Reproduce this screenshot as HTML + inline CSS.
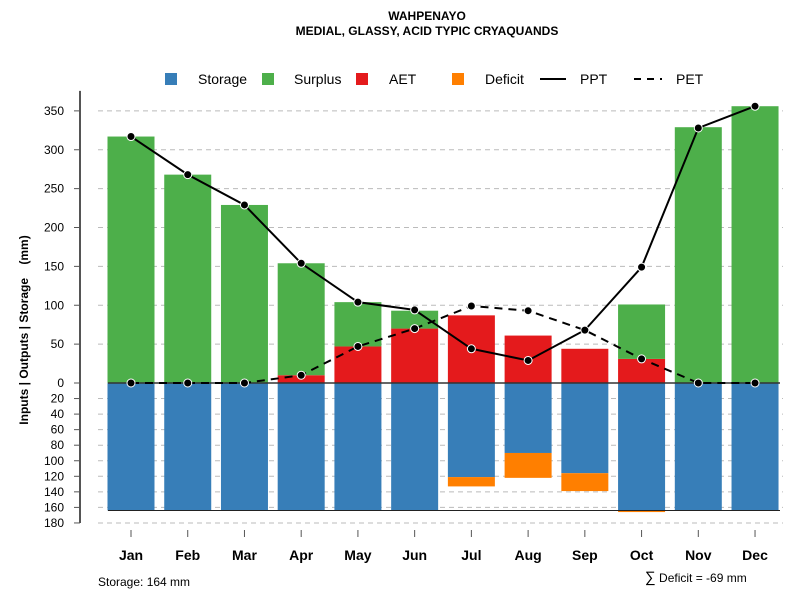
<!DOCTYPE html>
<html><head><meta charset="utf-8"><style>
body{margin:0;background:#fff;font-family:"Liberation Sans",sans-serif}
svg text{font-family:"Liberation Sans",sans-serif}
</style></head><body>
<svg id="c" width="800" height="600">
<text x="427" y="20" text-anchor="middle" font-size="12" font-weight="bold">WAHPENAYO</text>
<text x="427" y="35" text-anchor="middle" font-size="12" font-weight="bold">MEDIAL, GLASSY, ACID TYPIC CRYAQUANDS</text>
<g id="legend">
<rect x="165" y="73" width="12" height="12" fill="#377eb8"/>
<text x="198" y="84" font-size="14">Storage</text>
<rect x="262" y="73" width="12" height="12" fill="#4daf4a"/>
<text x="294" y="84" font-size="14">Surplus</text>
<rect x="356" y="73" width="12" height="12" fill="#e41a1c"/>
<text x="389" y="84" font-size="14">AET</text>
<rect x="452" y="73" width="12" height="12" fill="#ff7f00"/>
<text x="485" y="84" font-size="14">Deficit</text>
<line x1="540" y1="79" x2="566" y2="79" stroke="#000" stroke-width="2"/>
<text x="580" y="84" font-size="14">PPT</text>
<line x1="634" y1="79" x2="662" y2="79" stroke="#000" stroke-width="2" stroke-dasharray="7,6"/>
<text x="676" y="84" font-size="14">PET</text>
</g>
<text transform="translate(28,330) rotate(-90)" text-anchor="middle" font-size="12" font-weight="bold">Inputs | Outputs | Storage&#160;&#160;&#160;&#160;(mm)</text>
<text x="98" y="586" font-size="12">Storage: 164 mm</text>
<text x="645" y="582" font-size="12"><tspan font-size="15">∑</tspan> Deficit = -69 mm</text>
</svg>
<script>
const months=["Jan","Feb","Mar","Apr","May","Jun","Jul","Aug","Sep","Oct","Nov","Dec"];
const aet=[0,0,0,10,47,70,87,61,44,31,0,0];
const surplus=[317,268,229,144,57,23,0,0,0,70,329,356];
const storage=[164,164,164,164,164,164,121,90,116,164,164,164];
const deficit=[0,0,0,0,0,0,12,32,23,2,0,0];
const ppt=[317,268,229,154,104,94,44,29,68,149,328,356];
const pet=[0,0,0,10,47,70,99,93,68,31,0,0];
const upTicks=[0,50,100,150,200,250,300,350];
const downTicks=[20,40,60,80,100,120,140,160,180];
const NS="http://www.w3.org/2000/svg",svg=document.getElementById("c");
const y0=383,k=0.7775;
const yu=v=>y0-v*k, yd=v=>y0+v*k, xc=i=>131+i*56.73, bw=47;
function mk(t,a,p){const e=document.createElementNS(NS,t);for(const n in a)e.setAttribute(n,a[n]);(p||svg).appendChild(e);return e;}
const g=mk("g",{});


upTicks.forEach(v=>{if(v>0){const l=mk("line",{x1:98,x2:783,y1:yu(v),y2:yu(v),stroke:"#bbb","stroke-dasharray":"5,4"},g);}
 mk("line",{x1:74,x2:80,y1:yu(v),y2:yu(v),stroke:"#555"},g);
 const t=mk("text",{x:64,y:yu(v)+4,"text-anchor":"end","font-size":12},g);t.textContent=v;
 });
downTicks.forEach(v=>{const l=mk("line",{x1:98,x2:783,y1:yd(v),y2:yd(v),stroke:"#bbb","stroke-dasharray":"5,4"},g);
 
 mk("line",{x1:74,x2:80,y1:yd(v),y2:yd(v),stroke:"#555"},g);
 const t=mk("text",{x:64,y:yd(v)+4,"text-anchor":"end","font-size":12},g);t.textContent=v;
 });
mk("line",{x1:80,x2:80,y1:yu(upTicks[upTicks.length-1])-20,y2:yd(180),stroke:"#555","stroke-width":2},g);
months.forEach((m,i)=>{const x=xc(i)-bw/2;
 let r=mk("rect",{x:x,y:y0,width:bw,height:storage[i]*k,fill:"#377eb8"},g);
 
 if(deficit[i]>0){r=mk("rect",{x:x,y:yd(storage[i]),width:bw,height:deficit[i]*k,fill:"#ff7f00"},g);
 }
 r=mk("rect",{x:x,y:yu(aet[i]),width:bw,height:aet[i]*k,fill:"#e41a1c"},g);
 
 r=mk("rect",{x:x,y:yu(aet[i]+surplus[i]),width:bw,height:surplus[i]*k,fill:"#4daf4a"},g);
 
 mk("line",{x1:xc(i),x2:xc(i),y1:530,y2:537,stroke:"#555"},g);
 const t=mk("text",{x:xc(i),y:560,"text-anchor":"middle","font-size":14,"font-weight":"bold"},g);t.textContent=m;
 });
mk("line",{x1:108,x2:780,y1:y0,y2:y0,stroke:"#333","stroke-width":1.5},g);
mk("line",{x1:108,x2:780,y1:yd(164),y2:yd(164),stroke:"#222","stroke-width":1},g);
function series(d,name,dash){const p=mk("polyline",{points:d.map((v,i)=>xc(i)+","+yu(v)).join(" "),fill:"none",stroke:"#000","stroke-width":2,"stroke-dasharray":dash},g);
 
 d.forEach((v,i)=>{const c=mk("circle",{cx:xc(i),cy:yu(v),r:4,fill:"#000",stroke:"#fff","stroke-width":1},g);
 });}
series(pet,"pet","8,6");
series(ppt,"ppt","none");
</script>
</body></html>
